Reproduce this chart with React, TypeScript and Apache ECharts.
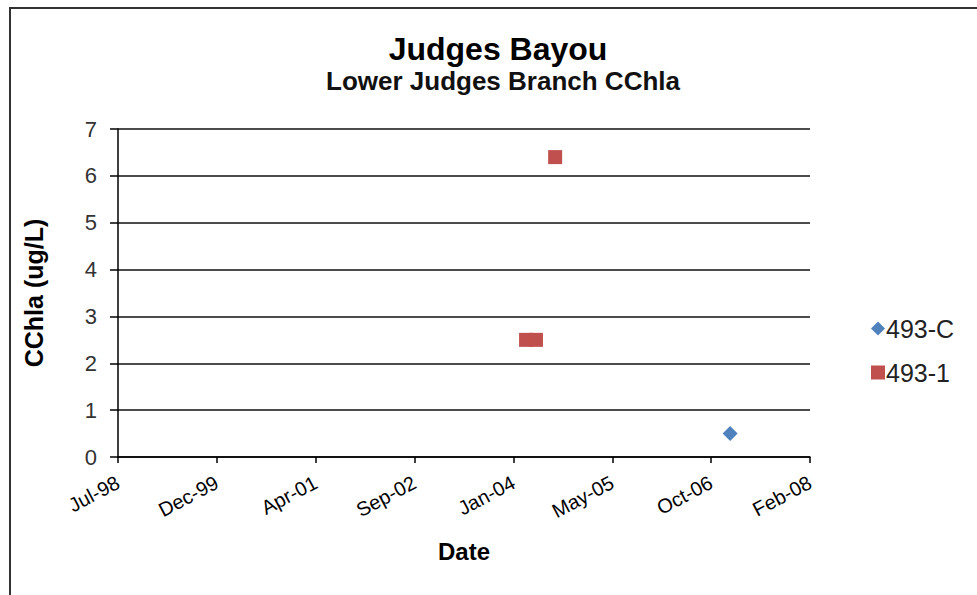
import React, { useEffect, useRef } from "react";
import * as echarts from "echarts";

const seriesNames = ["493-C", "493-1"];
const dates493C = ["2007-01-14"];
const values493C = [0.5];
const dates4931 = ["2004-03-18", "2004-05-07", "2004-08-12"];
const values4931 = [2.5, 2.5, 6.4];
const yTicks = [0, 1, 2, 3, 4, 5, 6, 7];
const xMinSerial = 36000;
const xMaxSerial = 39500;
const xIntervalDays = 500;
const colors = ["#4F81BD", "#C0504D"];
const MONTHS = ["Jan", "Feb", "Mar", "Apr", "May", "Jun", "Jul", "Aug", "Sep", "Oct", "Nov", "Dec"];

function toSerial(iso: string): number {
  const [y, m, d] = iso.split("-").map(Number);
  return Date.UTC(y, m - 1, d) / 86400000 + 25569;
}
function serialLabel(v: number): string {
  const dt = new Date((v - 25569) * 86400000);
  return MONTHS[dt.getUTCMonth()] + "-" + String(dt.getUTCFullYear() % 100).padStart(2, "0");
}

const FONT = "'Liberation Sans', Arial, sans-serif";

export default function App() {
  const ref = useRef<HTMLDivElement>(null);
  useEffect(() => {
    if (!ref.current) return;
    const chart = echarts.init(ref.current, undefined, { renderer: "svg" });
    chart.setOption({
      animation: false,
      backgroundColor: "#fff",
      textStyle: { fontFamily: FONT },
      title: [
        {
          text: "Judges Bayou",
          left: 493,
          top: 28,
          textAlign: "center",
          textStyle: { fontFamily: FONT, fontSize: 32, fontWeight: "bold", color: "#000" },
        },
        {
          text: "Lower Judges Branch CChla",
          left: 498,
          top: 63,
          textAlign: "center",
          textStyle: { fontFamily: FONT, fontSize: 26, fontWeight: "bold", color: "#111" },
        },
      ],
      graphic: [
        {
          type: "rect",
          shape: { x: 10, y: 8, width: 1000, height: 620 },
          style: { fill: "none", stroke: "#333", lineWidth: 2 },
          silent: true,
          z: -1,
        },
      ],
      legend: {
        orient: "vertical",
        left: 866,
        top: 311,
        itemGap: 19,
        itemWidth: 14,
        itemHeight: 14,
        textStyle: { fontFamily: FONT, fontSize: 25, color: "#222", padding: [0, 0, 0, -4] },
        data: [
          { name: seriesNames[0], icon: "diamond" },
          { name: seriesNames[1], icon: "rect" },
        ],
      },
      grid: { left: 118, right: 167, top: 129, bottom: 138, containLabel: false },
      xAxis: {
        type: "value",
        min: xMinSerial,
        max: xMaxSerial,
        interval: xIntervalDays,
        name: "Date",
        nameLocation: "middle",
        nameGap: 82,
        nameTextStyle: { fontFamily: FONT, fontSize: 24, fontWeight: "bold", color: "#000" },
        axisLine: { show: true, onZero: false, lineStyle: { color: "#000", width: 1.5 } },
        axisTick: { show: true, length: 6, lineStyle: { color: "#000", width: 1.5 } },
        splitLine: { show: false },
        axisLabel: {
          rotate: 28,
          fontFamily: FONT,
          fontSize: 20,
          color: "#000",
          margin: 24,
          formatter: (v: number) => serialLabel(v),
        },
      },
      yAxis: {
        type: "value",
        min: yTicks[0],
        max: yTicks[yTicks.length - 1],
        interval: 1,
        name: "CChla (ug/L)",
        nameLocation: "middle",
        nameGap: 72,
        nameRotate: 90,
        nameTextStyle: { fontFamily: FONT, fontSize: 25, fontWeight: "bold", color: "#000" },
        axisLine: { show: true, lineStyle: { color: "#000", width: 1.5 } },
        axisTick: { show: true, length: 8, lineStyle: { color: "#000", width: 1.5 } },
        splitLine: { show: true, lineStyle: { color: "#111", width: 1.5 } },
        axisLabel: { fontFamily: FONT, fontSize: 22, color: "#333", margin: 21 },
      },
      series: [
        {
          name: seriesNames[0],
          type: "scatter",
          symbol: "diamond",
          symbolSize: 15,
          itemStyle: { color: colors[0], opacity: 1 },
          data: dates493C.map((d, i) => [toSerial(d), values493C[i]]),
        },
        {
          name: seriesNames[1],
          type: "scatter",
          symbol: "rect",
          symbolSize: 14,
          itemStyle: { color: colors[1], opacity: 1 },
          data: dates4931.map((d, i) => [toSerial(d), values4931[i]]),
        },
      ],
    });
    return () => chart.dispose();
  }, []);
  return (
    <div
      ref={ref}
      style={{ position: "fixed", left: 0, top: 0, width: 977, height: 595, background: "#fff" }}
    />
  );
}
